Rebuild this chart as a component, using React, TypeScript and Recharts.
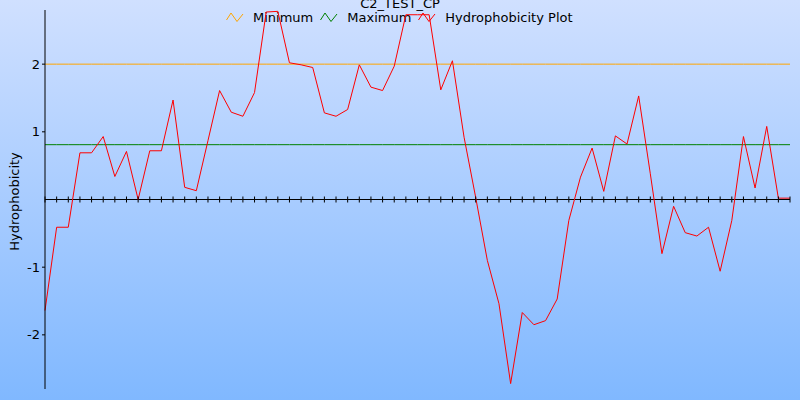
import React from 'react';
import { LineChart, Line, XAxis, YAxis, Label } from 'recharts';

const hydrophobicity = [
  -1.64, -0.41, -0.41, 0.69, 0.69, 0.93, 0.34, 0.71, 0.0, 0.72,
  0.72, 1.47, 0.18, 0.13, 0.87, 1.61, 1.29, 1.23, 1.58, 2.77,
  2.78, 2.02, 1.99, 1.95, 1.28, 1.23, 1.33, 1.99, 1.66, 1.61,
  1.97, 2.73, 2.73, 2.73, 1.62, 2.05, 0.92, 0.03, -0.9, -1.54,
  -2.72, -1.67, -1.85, -1.79, -1.47, -0.31, 0.33, 0.76, 0.12, 0.94,
  0.82, 1.53, 0.38, -0.8, -0.1, -0.49, -0.54, -0.41, -1.06, -0.31,
  0.93, 0.17, 1.08, 0.02, 0.02,
];
const minimumValue = 2.0;
const maximumValue = 0.81;
const yTicks = [-2, -1, 1, 2];
const title = 'C2_TEST_CP';
const yLabel = 'Hydrophobicity';
const legendItems = [
  { name: 'Minimum', color: '#ffa500' },
  { name: 'Maximum', color: '#008000' },
  { name: 'Hydrophobicity Plot', color: '#ff0000' },
];

const data = hydrophobicity.map((v, i) => ({
  idx: i,
  hydro: v,
  min: minimumValue,
  max: maximumValue,
  zero: 0,
}));

const FONT = '"DejaVu Sans", Verdana, sans-serif';

const ZigZag = ({ color }: { color: string }) => (
  <svg width={18} height={11} style={{ display: 'block' }}>
    <polyline points="0.5,8 5,1 11,9.5 17,2" fill="none" stroke={color} strokeWidth={1} />
  </svg>
);

const AxisTick = (props: any) => {
  const { cx, cy, index } = props;
  if (cx == null || cy == null) return <g key={`t${index}`} />;
  return <line key={`t${index}`} x1={cx} x2={cx} y1={cy - 3} y2={cy + 3} stroke="#000" strokeWidth={1} />;
};

export default function App() {
  return (
    <div
      style={{
        position: 'absolute',
        left: 0,
        top: 0,
        width: 800,
        height: 400,
        overflow: 'hidden',
        background: 'linear-gradient(to bottom, #d0e0ff 0%, #80b8ff 100%)',
        fontFamily: FONT,
      }}
    >
      <div
        style={{
          position: 'absolute',
          left: 0,
          width: 800,
          top: -4,
          textAlign: 'center',
          fontSize: 13,
          color: '#000',
          lineHeight: '15px',
        }}
      >
        {title}
      </div>
      <div
        style={{
          position: 'absolute',
          left: 226,
          top: 10,
          display: 'flex',
          alignItems: 'center',
          fontSize: 13,
          lineHeight: '15px',
          color: '#000',
        }}
      >
        {legendItems.map((it) => (
          <div key={it.name} style={{ display: 'flex', alignItems: 'center', marginRight: 7 }}>
            <ZigZag color={it.color} />
            <span style={{ marginLeft: 9 }}>{it.name}</span>
          </div>
        ))}
      </div>
      <div style={{ position: 'absolute', left: 0, top: 0 }}>
        <LineChart
          width={800}
          height={400}
          data={data}
          margin={{ top: 10, right: 10, bottom: 11, left: 0 }}
          style={{ fontFamily: FONT }}
        >
          <XAxis dataKey="idx" hide />
          <YAxis
            width={45}
            domain={[-2.8, 2.8]}
            ticks={yTicks}
            allowDataOverflow
            axisLine={{ stroke: '#000', strokeWidth: 1 }}
            tickLine={{ stroke: '#000' }}
            tickSize={3}
            tick={{ fill: '#000', fontSize: 13, fontFamily: FONT }}
          >
            <Label
              content={(p: any) => {
                const vb = p.viewBox || {};
                const x = 19;
                const y = (vb.y ?? 10) + (vb.height ?? 379) / 2 + 2;
                return (
                  <text
                    x={x}
                    y={y}
                    transform={`rotate(-90 ${x} ${y})`}
                    textAnchor="middle"
                    fontSize={13}
                    fontFamily={FONT}
                    fill="#000"
                  >
                    {yLabel}
                  </text>
                );
              }}
            />
          </YAxis>
          <Line type="linear" dataKey="zero" stroke="#000" strokeWidth={1} dot={AxisTick} activeDot={false} isAnimationActive={false} legendType="none" />
          <Line type="linear" dataKey="min" stroke="#ffa500" strokeWidth={1} dot={false} activeDot={false} isAnimationActive={false} />
          <Line type="linear" dataKey="max" stroke="#008000" strokeWidth={1} dot={false} activeDot={false} isAnimationActive={false} />
          <Line type="linear" dataKey="hydro" stroke="#ff0000" strokeWidth={1} dot={false} activeDot={false} isAnimationActive={false} />
        </LineChart>
      </div>
    </div>
  );
}
